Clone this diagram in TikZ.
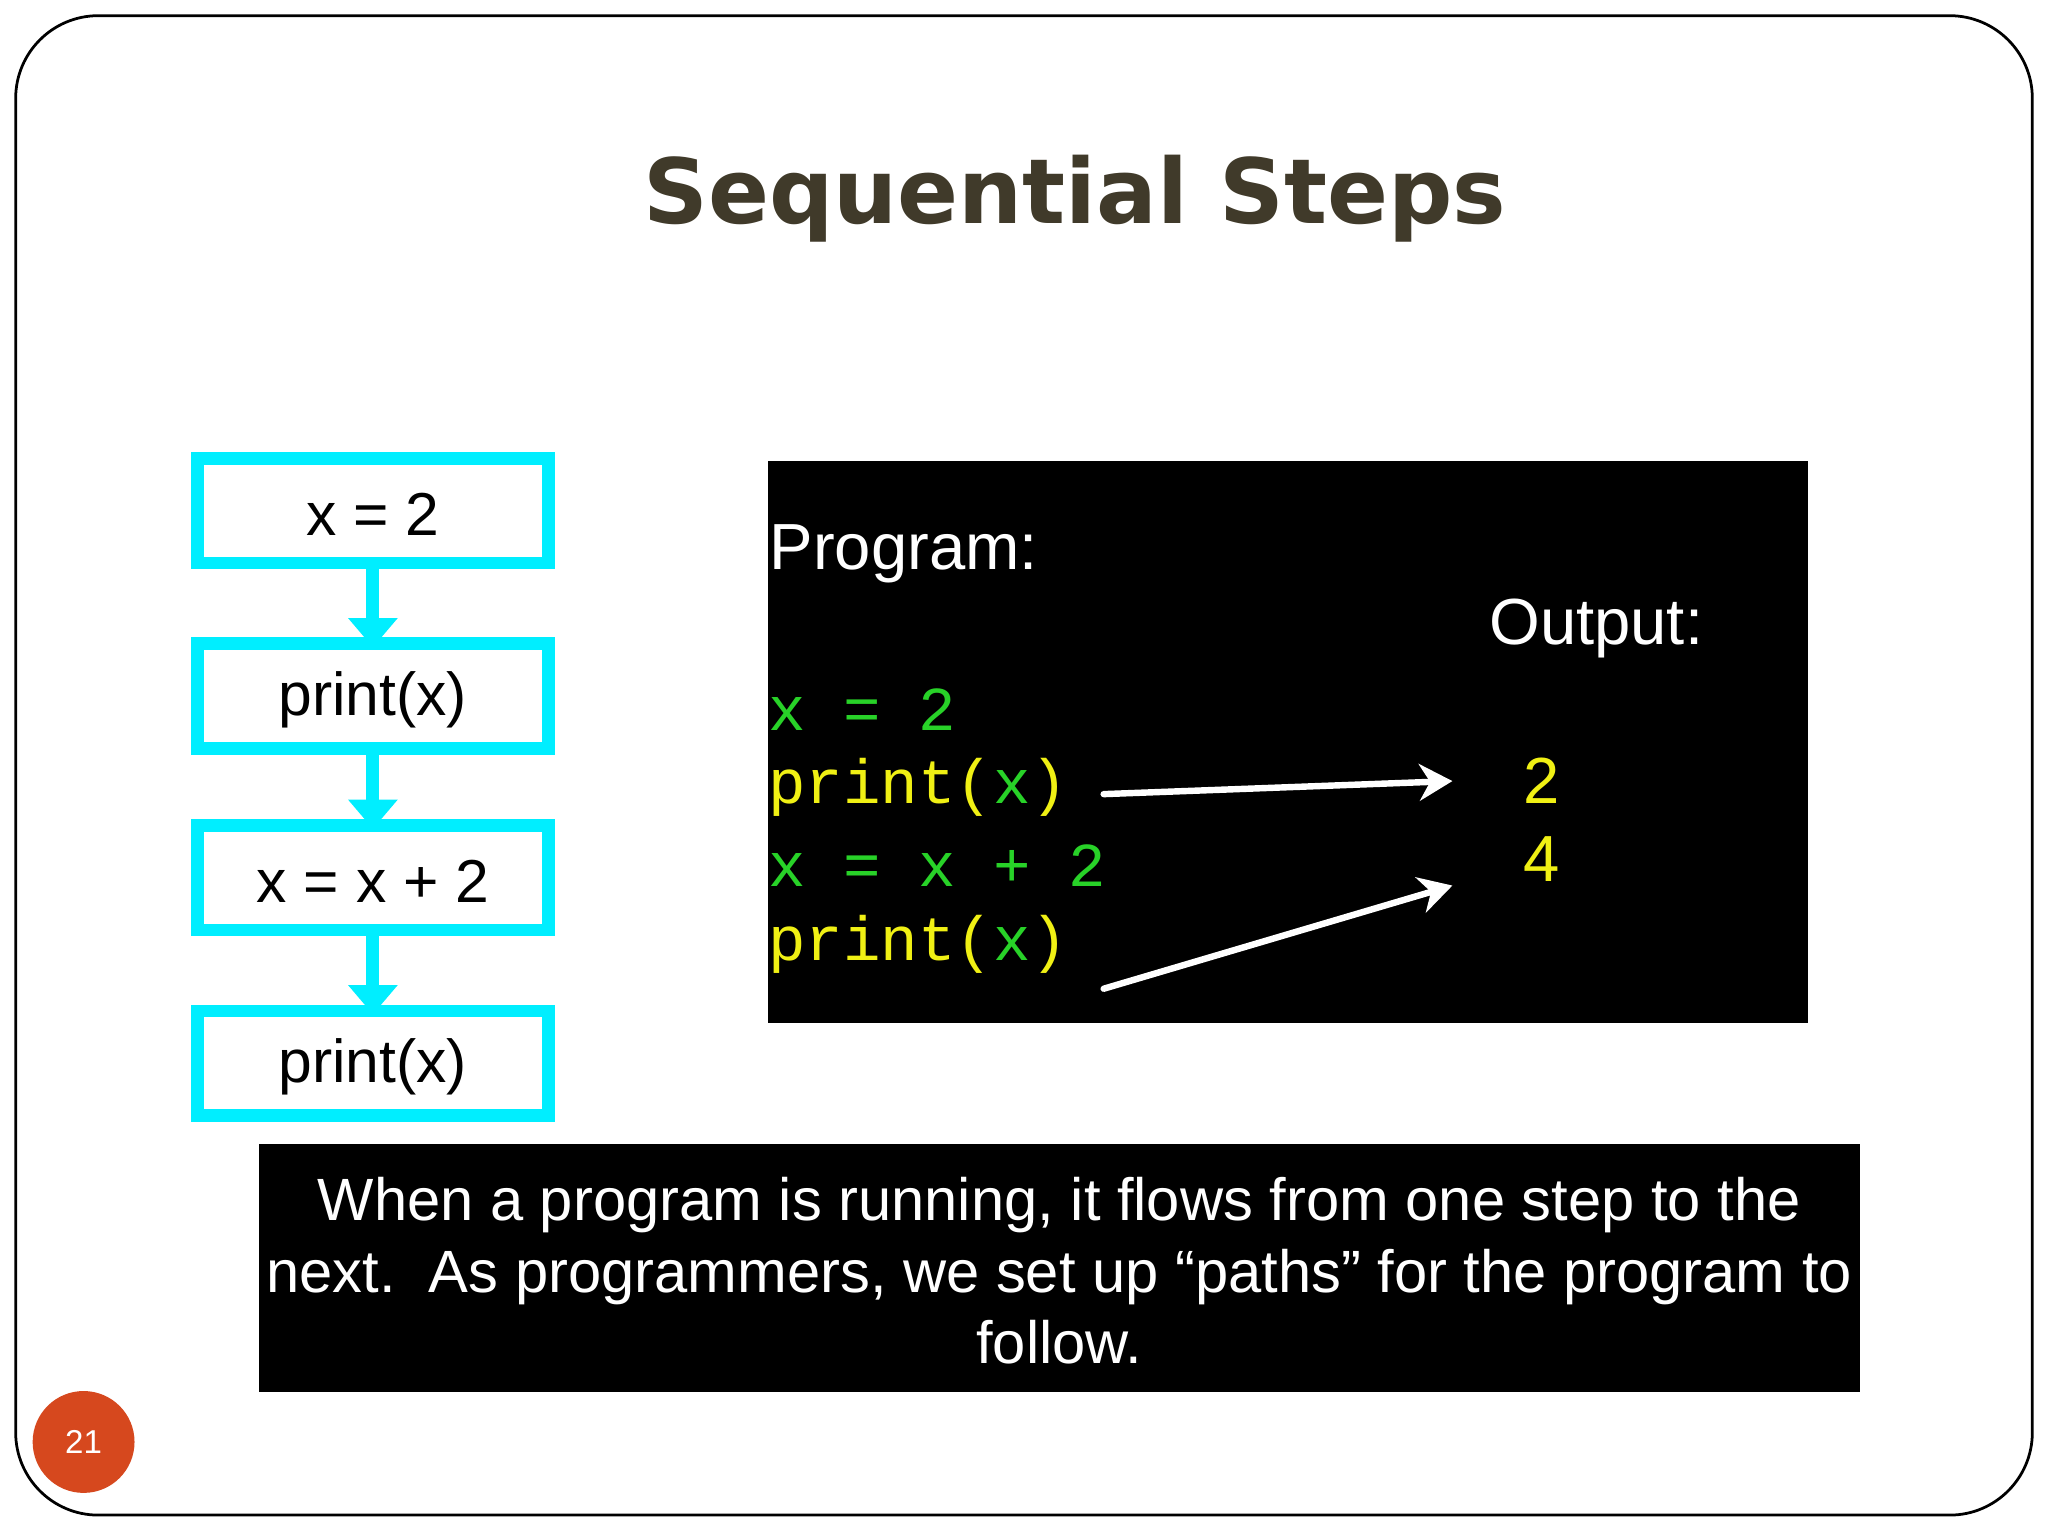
\documentclass[tikz,border=0pt]{standalone}
\usepackage{fontspec}
\setmainfont{Liberation Sans}
\newfontfamily\titlefont{DejaVu Sans}
\newfontfamily\codefont{Liberation Mono}
\usetikzlibrary{arrows.meta}
\definecolor{cy}{RGB}{0,238,255}
\definecolor{cgreen}{RGB}{40,210,40}
\definecolor{cyel}{RGB}{240,240,20}
\definecolor{ttl}{RGB}{64,58,42}
\definecolor{pg}{RGB}{214,72,30}
\tikzset{
  flowarr/.style={draw=cy,line width=7pt,-{Triangle[length=16pt,width=26pt]}},
  codeline/.style={anchor=west,inner sep=0pt,font=\codefont\fontsize{34}{40}\selectfont},
  whitearr/.style={draw=white,line width=3.5pt,line cap=round,-{Stealth[length=18pt,width=20pt]}}
}
\begin{document}
\begin{tikzpicture}[x=0.025cm,y=-0.025cm]
\useasboundingbox (0,0) rectangle (1568,1176);
\fill[white] (0,0) rectangle (1568,1176);
\draw[line width=1.5pt,rounded corners=45pt] (12,12) rectangle (1556,1160);
\node[font=\titlefont\bfseries\fontsize{49}{58}\selectfont,text=ttl] (title) at (823,152) {Sequential Steps};
% flow boxes
\foreach \n/\y/\t in {b1/391/{x = 2},b2/533/{print(x)},b3/672/{x = x + 2},b4/814/{print(x)}}{
  \draw[cy,line width=7pt] (151,\y-40) rectangle (420,\y+40);
  \node[font=\fontsize{33}{38}\selectfont,inner sep=0pt,minimum width=6.7cm,minimum height=2cm] (\n) at (285.5,\y+3) {\t};
}
\draw[flowarr] (b1.south) -- (b2.north);
\draw[flowarr] (b2.south) -- (b3.north);
\draw[flowarr] (b3.south) -- (b4.north);
% program box
\fill[black] (588,353) rectangle (1384,783);
\node[anchor=west,inner sep=0pt,text=white,font=\fontsize{35.5}{40}\selectfont] (prog) at (589,424) {Program:};
\node[anchor=west,inner sep=0pt,text=white,font=\fontsize{35.5}{40}\selectfont] (outp) at (1140,481) {Output:};
\node[codeline,text=cgreen] (c1) at (588,543) {x = 2};
\node[codeline] (c2) at (588,603) {\textcolor{cyel}{print(}\textcolor{cgreen}{x}\textcolor{cyel}{)}};
\node[codeline,text=cgreen] (c3) at (588,663) {x = x + 2};
\node[codeline] (c4) at (588,723) {\textcolor{cyel}{print(}\textcolor{cgreen}{x}\textcolor{cyel}{)}};
\node[text=cyel,font=\fontsize{35.5}{40}\selectfont,inner sep=0pt] (o1) at (1180,598) {2};
\node[text=cyel,font=\fontsize{35.5}{40}\selectfont,inner sep=0pt] (o2) at (1180,658) {4};
\coordinate (s1) at (845,608); \coordinate (e1) at (1112,598);
\coordinate (s2) at (845,757); \coordinate (e2) at (1112,678);
\draw[whitearr] (s1) -- (e1);
\draw[whitearr] (s2) -- (e2);
% bottom box
\fill[black] (198,876) rectangle (1424,1066);
\node[text=white,align=center,font=\fontsize{32.5}{39}\selectfont] (note) at (811,973) {When a program is running, it flows from one step to the\\next.\ \ As programmers, we set up “paths” for the program to\\follow.};
% page number
\fill[pg] (64,1104) circle (39);
\node[text=white,font=\fontsize{18}{20}\selectfont] (pn) at (64,1104) {21};
\end{tikzpicture}
\end{document}
